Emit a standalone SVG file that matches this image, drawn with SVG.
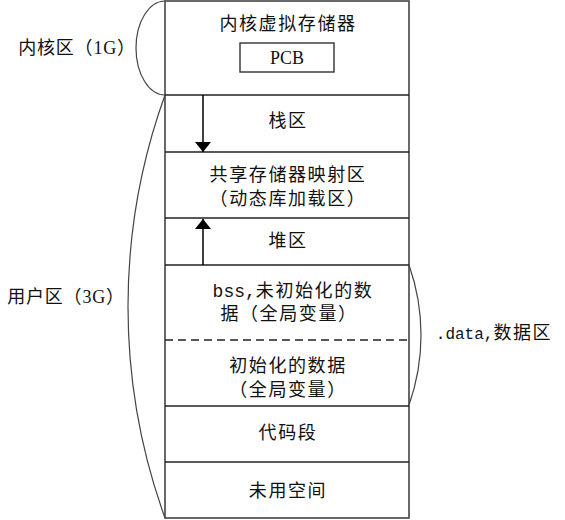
<svg xmlns="http://www.w3.org/2000/svg" width="565" height="520" viewBox="0 0 565 520">
<style>
text{font-family:"Liberation Serif","Noto Sans CJK SC",serif;font-size:18px;fill:#111;text-anchor:middle;letter-spacing:1.6px}
.side{letter-spacing:0.8px}
.mono{font-family:"Liberation Mono","Noto Sans CJK SC",monospace;letter-spacing:0}
.box{fill:#fff;stroke:#444;stroke-width:1.6}
.sep{stroke:#222;stroke-width:1.5;fill:none}
.curve{stroke:#444;stroke-width:1.2;fill:none}
.arrow{stroke:#000;stroke-width:1.5;fill:none;marker-end:url(#ah)}
</style>
<defs>
<marker id="ah" viewBox="0 0 10 16" refX="10" refY="8" markerWidth="10" markerHeight="16" markerUnits="userSpaceOnUse" orient="auto">
<path d="M0,0 L10,8 L0,16 z" fill="#000"/>
</marker>
</defs>
<rect class="box" x="165" y="1" width="244" height="517"/>
<g id="kernel">
<text x="288" y="30">内核虚拟存储器</text>
<rect x="240" y="43" width="94" height="29" fill="#fff" stroke="#333" stroke-width="1.4"/>
<text x="287" y="64" font-size="17" style="letter-spacing:0">PCB</text>
</g>
<g id="stack">
<line class="sep" x1="165" y1="95" x2="409" y2="95"/>
<text x="288" y="127">栈区</text>
</g>
<g id="shared">
<line class="sep" x1="165" y1="152" x2="409" y2="152" stroke="#666"/>
<text x="288" y="181">共享存储器映射区</text>
<text x="288" y="205">（动态库加载区）</text>
</g>
<g id="heap">
<line class="sep" x1="165" y1="218" x2="409" y2="218"/>
<text x="288" y="247">堆区</text>
</g>
<g id="bss">
<line class="sep" x1="165" y1="265" x2="409" y2="265"/>
<text x="293" y="297"><tspan class="mono">bss,</tspan>未初始化的数</text>
<text x="289" y="320">据（全局变量）</text>
</g>
<g id="data">
<line class="sep" x1="165" y1="340" x2="409" y2="340" stroke-dasharray="8,5"/>
<text x="288" y="372">初始化的数据</text>
<text x="288" y="396">（全局变量）</text>
</g>
<g id="text">
<line class="sep" x1="165" y1="406" x2="409" y2="406" stroke="#666"/>
<text x="288" y="439">代码段</text>
</g>
<g id="unused">
<line class="sep" x1="165" y1="462" x2="409" y2="462"/>
<text x="288" y="497">未用空间</text>
</g>
<g id="labels">
<text class="side" x="77" y="54">内核区（1G）</text>
<text class="side" x="66" y="303">用户区（3G）</text>
<text x="494" y="339"><tspan class="mono" font-size="16">.data,</tspan>数据区</text>
</g>
<g id="connectors">
<path class="curve" d="M165,1 A29,47 0 0 0 165,95"/>
<path class="curve" d="M165,95 A623,623 0 0 0 165,518"/>
<path class="curve" d="M409,265 A210,210 0 0 1 409,405"/>
<line class="arrow" x1="203" y1="95" x2="203" y2="152"/>
<line class="arrow" x1="203" y1="265" x2="203" y2="219"/>
</g>
</svg>
